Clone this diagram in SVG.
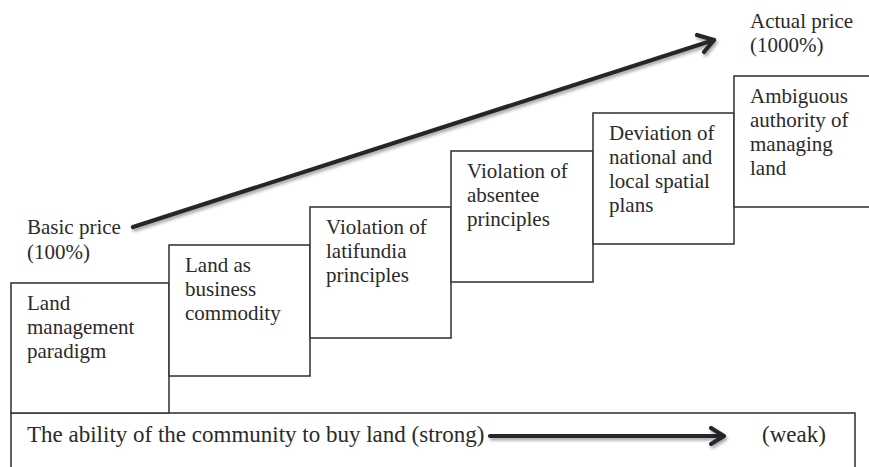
<svg xmlns="http://www.w3.org/2000/svg" width="869" height="467" viewBox="0 0 869 467" font-family="'Liberation Serif', 'Times New Roman', serif">
  <style>
    .box { fill: #ffffff; stroke: #3a3a3a; stroke-width: 1.6; }
    .label { font-family: "Liberation Serif", "Times New Roman", serif; font-size: 21px; fill: #2a2a2a; }
    .band { font-family: "Liberation Serif", "Times New Roman", serif; font-size: 23px; fill: #2a2a2a; }
    .arrow { fill: none; stroke: #26262a; stroke-width: 4.2; stroke-linecap: round; stroke-linejoin: round; }
  </style>
  <defs>
    <filter id="shadow" x="-10%" y="-30%" width="120%" height="160%">
      <feDropShadow dx="1.5" dy="2.5" stdDeviation="1.6" flood-color="#000000" flood-opacity="0.35"/>
    </filter>
  </defs>
  <rect width="869" height="467" fill="#ffffff"/>

  <!-- bottom band: purchasing ability -->
  <g id="ability">
    <rect class="box" x="11" y="413" width="844" height="120"/>
    <text class="band" x="27" y="442">The ability of the community to buy land (strong)</text>
    <text class="band" x="762" y="442">(weak)</text>
  </g>

  <!-- staircase of factors -->
  <g id="step1">
    <rect class="box" x="11" y="283" width="158" height="130"/>
    <text class="label" x="27" y="310">Land</text>
    <text class="label" x="27" y="334">management</text>
    <text class="label" x="27" y="358">paradigm</text>
  </g>
  <g id="step2">
    <rect class="box" x="169" y="245" width="141" height="131"/>
    <text class="label" x="185" y="272">Land as</text>
    <text class="label" x="185" y="296">business</text>
    <text class="label" x="185" y="320">commodity</text>
  </g>
  <g id="step3">
    <rect class="box" x="310" y="207" width="141" height="131"/>
    <text class="label" x="326" y="234">Violation of</text>
    <text class="label" x="326" y="258">latifundia</text>
    <text class="label" x="326" y="282">principles</text>
  </g>
  <g id="step4">
    <rect class="box" x="451" y="151" width="142" height="131"/>
    <text class="label" x="467" y="178">Violation of</text>
    <text class="label" x="467" y="202">absentee</text>
    <text class="label" x="467" y="226">principles</text>
  </g>
  <g id="step5">
    <rect class="box" x="593" y="113" width="141" height="131"/>
    <text class="label" x="609" y="140">Deviation of</text>
    <text class="label" x="609" y="164">national and</text>
    <text class="label" x="609" y="188">local spatial</text>
    <text class="label" x="609" y="212">plans</text>
  </g>
  <g id="step6">
    <rect class="box" x="734" y="76" width="160" height="131"/>
    <text class="label" x="750" y="103">Ambiguous</text>
    <text class="label" x="750" y="127">authority of</text>
    <text class="label" x="750" y="151">managing</text>
    <text class="label" x="750" y="175">land</text>
  </g>

  <!-- price labels -->
  <g id="basic-price">
    <text class="label" x="27" y="234">Basic price</text>
    <text class="label" x="27" y="259">(100%)</text>
  </g>
  <g id="actual-price">
    <text class="label" x="750" y="28">Actual price</text>
    <text class="label" x="750" y="52">(1000%)</text>
  </g>

  <!-- connectors -->
  <g id="connectors" filter="url(#shadow)">
    <path class="arrow" d="M133 227 L714 40"/>
    <path class="arrow" d="M697 35 L714 40 L704 52"/>
    <path class="arrow" d="M490 436 L723 436"/>
    <path class="arrow" d="M711 428 L724 436 L711 444"/>
  </g>
</svg>
